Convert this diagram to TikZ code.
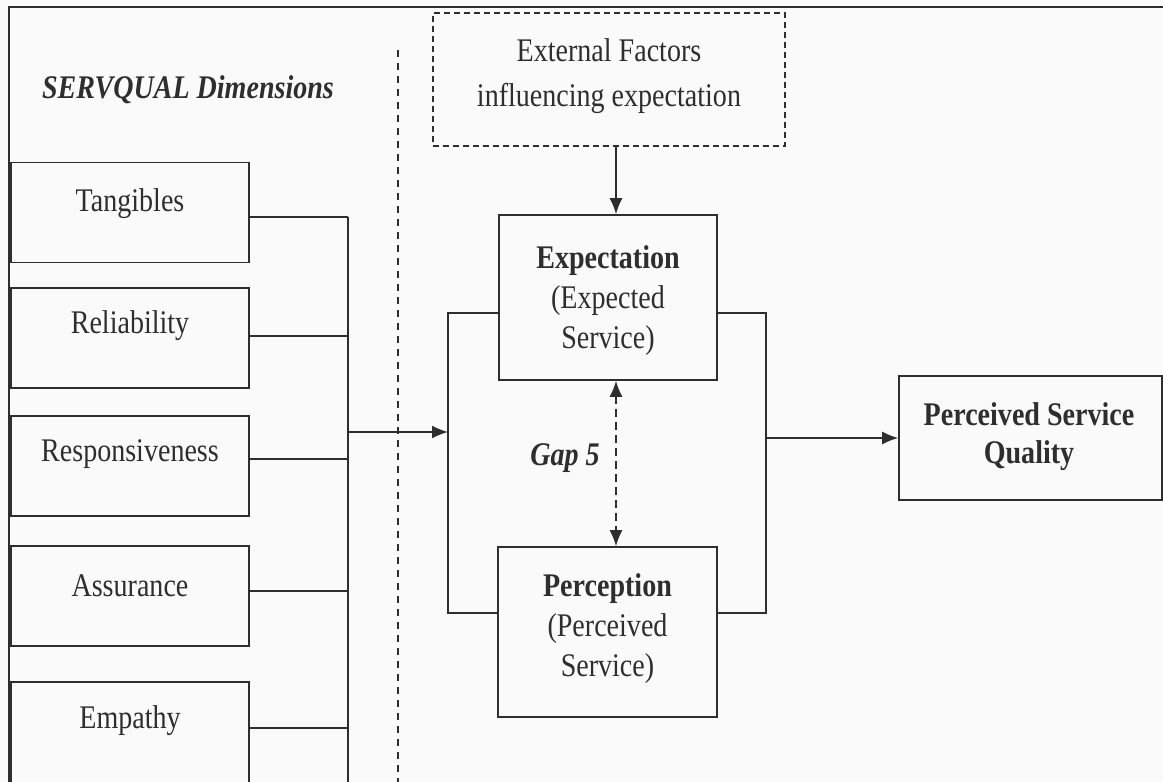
\documentclass[tikz,border=0pt]{standalone}
\usepackage{fontspec}
\setmainfont{Liberation Serif}[FakeStretch=0.85]
\usetikzlibrary{arrows.meta,calc}
\definecolor{ink}{HTML}{2E2E2E}
\definecolor{paper}{HTML}{FAFAFA}
\begin{document}
\begin{tikzpicture}[x=0.5pt,y=-0.5pt,
  line/.style={draw=ink,line width=0.8pt},
  box/.style={draw=ink,line width=0.8pt,inner sep=0pt,fill=paper,minimum width=119pt,minimum height=50pt},
  lbl/.style={text=ink,font=\fontsize{16.5}{20}\selectfont,align=center,inner sep=0pt},
  bold/.style={lbl,font=\bfseries\fontsize{16.5}{20}\selectfont},
  bolditalic/.style={lbl,font=\bfseries\itshape\fontsize{16.5}{20}\selectfont},
  arr/.style={line,-{Latex[length=8pt,width=6.5pt]}},
  dblarr/.style={line,{Latex[length=8pt,width=6.5pt]}-{Latex[length=8pt,width=6.5pt]},dash pattern=on 4pt off 2.5pt},
]
\fill[paper] (0,0) rectangle (1163,782);
\clip (0,0) rectangle (1163,782);
% outer frame (top and left edges)
\draw[line] (1163,7) -- (9,7) -- (9,782);
% title
\node[bolditalic] (title) at (188,90) {SERVQUAL Dimensions};
% divider
\coordinate (divtop) at (398,50);
\coordinate (divbot) at (398,782);
\draw[line,dash pattern=on 3.5pt off 3pt] (divtop) -- (divbot);
% SERVQUAL dimension boxes
\node[box] (tan) at (130,212.5) {};
\node[box] (rel) at (130,338) {};
\node[box] (res) at (130,466) {};
\node[box] (ass) at (130,596) {};
\node[box,minimum height=59pt] (emp) at (130,741) {};
\node[lbl] (tant) at (130,204) {Tangibles};
\node[lbl] (relt) at (130,326) {Reliability};
\node[lbl] (rest) at (130,454) {Responsiveness};
\node[lbl] (asst) at (130,586) {Assurance};
\node[lbl] (empt) at (130,721) {Empathy};
% bus
\coordinate (b1) at (348,217);
\coordinate (b2) at (348,336);
\coordinate (b3) at (348,459);
\coordinate (b4) at (348,591);
\coordinate (b5) at (348,728);
\coordinate (bend) at (348,782);
\draw[line] (tan.east|-b1) -- (b1);
\draw[line] (rel.east|-b2) -- (b2);
\draw[line] (res.east|-b3) -- (b3);
\draw[line] (ass.east|-b4) -- (b4);
\draw[line] (emp.east|-b5) -- (b5);
\draw[line] (b1) -- (bend);
% external factors
\node[box,dash pattern=on 3pt off 2pt,minimum width=176pt,minimum height=66.5pt] (ext) at (609,79.5) {};
\node[lbl,font=\fontsize{16.5}{22.5}\selectfont] (extt) at (609,76) {External Factors\\influencing expectation};
% expectation and perception
\node[box,minimum width=109pt,minimum height=82.5pt] (exp) at (608,297.5) {};
\node[lbl] (expt) at (608,301) {\textbf{Expectation}\\(Expected\\Service)};
\node[box,minimum width=109.5pt,minimum height=85pt] (per) at (607.5,632) {};
\node[lbl] (pert) at (607.5,629) {\textbf{Perception}\\(Perceived\\Service)};
% perceived service quality
\node[box,minimum width=131.5pt,minimum height=62pt] (psq) at (1030.5,438) {};
\node[bold,font=\bfseries\fontsize{16.5}{19}\selectfont] (psqt) at (1029,437) {Perceived Service\\Quality};
% gap
\coordinate (gx) at (616,0);
\draw[arr] (ext.south-|gx) -- (exp.north-|gx);
\draw[dblarr] (exp.south-|gx) -- (per.north-|gx);
\node[bolditalic] (gap) at (565,458) {Gap 5};
% loops
\coordinate (ly1) at (0,313);
\coordinate (ly2) at (0,613);
\coordinate (lx) at (448,0);
\coordinate (rx) at (766,0);
\draw[line] (exp.west|-ly1) -| (lx|-ly2) -- (per.west|-ly2);
\draw[line] (exp.east|-ly1) -| (rx|-ly2) -- (per.east|-ly2);
\coordinate (ay) at (0,432);
\draw[arr] (b1|-ay) -- (lx|-ay);
\draw[arr] (rx|-psq.west) -- (psq.west);
\end{tikzpicture}
\end{document}
